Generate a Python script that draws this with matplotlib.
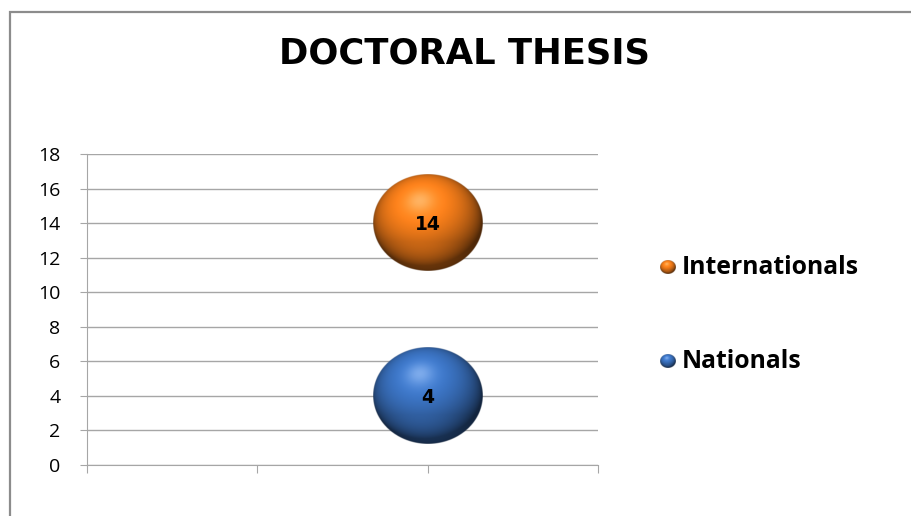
import numpy as np
import matplotlib
matplotlib.use('Agg')
import matplotlib.pyplot as plt
from matplotlib.patches import Rectangle

plt.rcParams['font.family'] = ['Open Sans', 'DejaVu Sans']

# Данные графика
series = ['Internationals', 'Nationals']
x_vals = [2, 2]
y_vals = [14, 4]
y_ticks = [0, 2, 4, 6, 8, 10, 12, 14, 16, 18]
x_ticks = [0, 1, 2, 3]

# Основные цвета шаров
base_colors = [(0.96, 0.49, 0.10), (0.23, 0.45, 0.76)]


# Картинка шара с объёмной заливкой
def sphere_rgba(base, n=240):
    y, x = np.mgrid[1:-1:n * 1j, -1:1:n * 1j]
    r = np.sqrt(x ** 2 + y ** 2)
    z = np.sqrt(np.clip(1 - r ** 2, 0, 1))
    light = np.array([-0.15, 0.45, 0.88])
    light = light / np.linalg.norm(light)
    diff = np.clip(x * light[0] + y * light[1] + z * light[2], 0, 1)
    spec = diff ** 30
    # отражённый свет снизу
    refl = np.clip(-y - 0.4, 0, 1) * z * 0.45
    t = 0.32 + 0.8 * diff + refl
    base = np.array(base)
    rgb = base[None, None, :] * t[..., None]
    rgb = rgb + (1 - base[None, None, :]) * (0.3 * spec)[..., None]
    rgb = np.clip(rgb, 0, 1)
    alpha = np.clip((1 - r) * n / 2 + 0.5, 0, 1)
    return np.dstack([rgb, alpha])


fig = plt.figure(figsize=(9.12, 5.16), dpi=100)

# Рамка вокруг области графика
fig.patches.append(Rectangle((10 / 912, -0.05), 1.1, 1 - 12 / 516 + 0.05,
                             transform=fig.transFigure, fill=False,
                             edgecolor='#8c8c8c', linewidth=1.6))

ax = fig.add_axes([87 / 912, 1 - 465 / 516, (598 - 87) / 912, (465 - 154) / 516])

bw, bh = 0.645, 5.6  # размер шара в единицах данных
for i, name in enumerate(series):
    cx, cy = x_vals[i], y_vals[i]
    ax.imshow(sphere_rgba(base_colors[i]),
              extent=(cx - bw / 2, cx + bw / 2, cy - bh / 2, cy + bh / 2),
              aspect='auto', interpolation='bilinear', zorder=3)
    ax.text(cx, cy - 0.1, str(y_vals[i]), ha='center', va='center',
            fontsize=13.5, fontweight='bold', color='black', zorder=4,
            family='DejaVu Sans')

ax.set_xlim(x_ticks[0], x_ticks[-1])
ax.set_ylim(y_ticks[0], y_ticks[-1])
ax.set_yticks(y_ticks)
ax.set_xticks(x_ticks)
ax.set_xticklabels([])
ax.yaxis.grid(True, color='#a6a6a6', linewidth=1.0)
ax.set_axisbelow(True)
for s in ['top', 'right']:
    ax.spines[s].set_visible(False)
for s in ['left', 'bottom']:
    ax.spines[s].set_color('#a6a6a6')
ax.tick_params(axis='y', length=5, color='#a6a6a6', labelsize=14, pad=14)
ax.tick_params(axis='x', length=6, color='#a6a6a6')

fig.text(465 / 912, 1 - 54 / 516, 'DOCTORAL THESIS', ha='center', va='center',
         fontsize=25.5, fontweight='bold', family='DejaVu Sans')

# Легенда
legend_y = [267, 361]
for i, name in enumerate(series):
    yc = legend_y[i]
    lax = fig.add_axes([(668 - 8) / 912, 1 - (yc + 7) / 516, 16 / 912, 14 / 516])
    lax.imshow(sphere_rgba(base_colors[i], n=60), aspect='auto', interpolation='bilinear')
    lax.axis('off')
    fig.text(682 / 912, 1 - yc / 516, name, ha='left', va='center',
             fontsize=17.8, fontweight='bold')

fig.savefig('out.png', dpi=100)
